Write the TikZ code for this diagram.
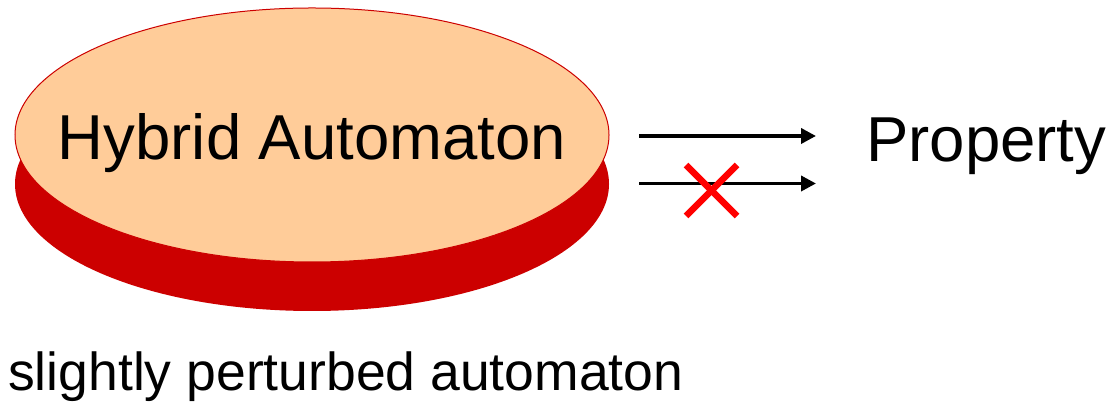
\documentclass[tikz,border=0pt]{standalone}
\usepackage{fontspec}
\setmainfont{Liberation Sans}
\usetikzlibrary{arrows.meta,shapes.geometric}
\definecolor{disctop}{RGB}{255,204,153}
\definecolor{discside}{RGB}{204,0,0}
\definecolor{discline}{RGB}{204,0,0}
\tikzset{
  disc/.style={ellipse,inner sep=0pt,minimum width=594pt,minimum height=254pt},
  bigtext/.style={font=\fontsize{63.5}{70}\selectfont,inner sep=0pt},
  captext/.style={font=\fontsize{53.5}{62}\selectfont,inner sep=0pt},
  implies/.style={line width=3.6pt,-{Triangle[length=15pt,width=15pt]}},
  crossline/.style={draw=red,line width=6.5pt}
}
\begin{document}
\begin{tikzpicture}
\useasboundingbox (0pt,0pt) rectangle (1116pt,403pt);
% the disc: a red ellipse under a lighter one, shifted down
\node[disc,fill=discside] (base) at (312pt,219pt) {};
\node[disc,fill=disctop,draw=discline,line width=1pt] (top) at (312pt,268pt) {};
\node[bigtext,anchor=base] (ha) at (312pt,243pt) {Hybrid Automaton};
% property on the right
\node[bigtext,anchor=base west] (prop) at (866pt,241pt) {Property};
% arrows
\coordinate (a1s) at (639pt,267pt);
\coordinate (a1e) at (816pt,267pt);
\coordinate (a2s) at (639pt,219.5pt);
\coordinate (a2e) at (816pt,219.5pt);
\draw[implies] (a1s) -- (a1e);
\draw[implies] (a2s) -- (a2e);
% cross on the lower arrow
\coordinate (x1) at (686pt,238pt);
\coordinate (x2) at (737pt,187pt);
\coordinate (x3) at (686pt,187pt);
\coordinate (x4) at (737pt,238pt);
\draw[crossline] (x1) -- (x2);
\draw[crossline] (x3) -- (x4);
% caption
\node[captext,anchor=base west] (cap) at (8pt,12pt) {slightly perturbed automaton};
\end{tikzpicture}
\end{document}
